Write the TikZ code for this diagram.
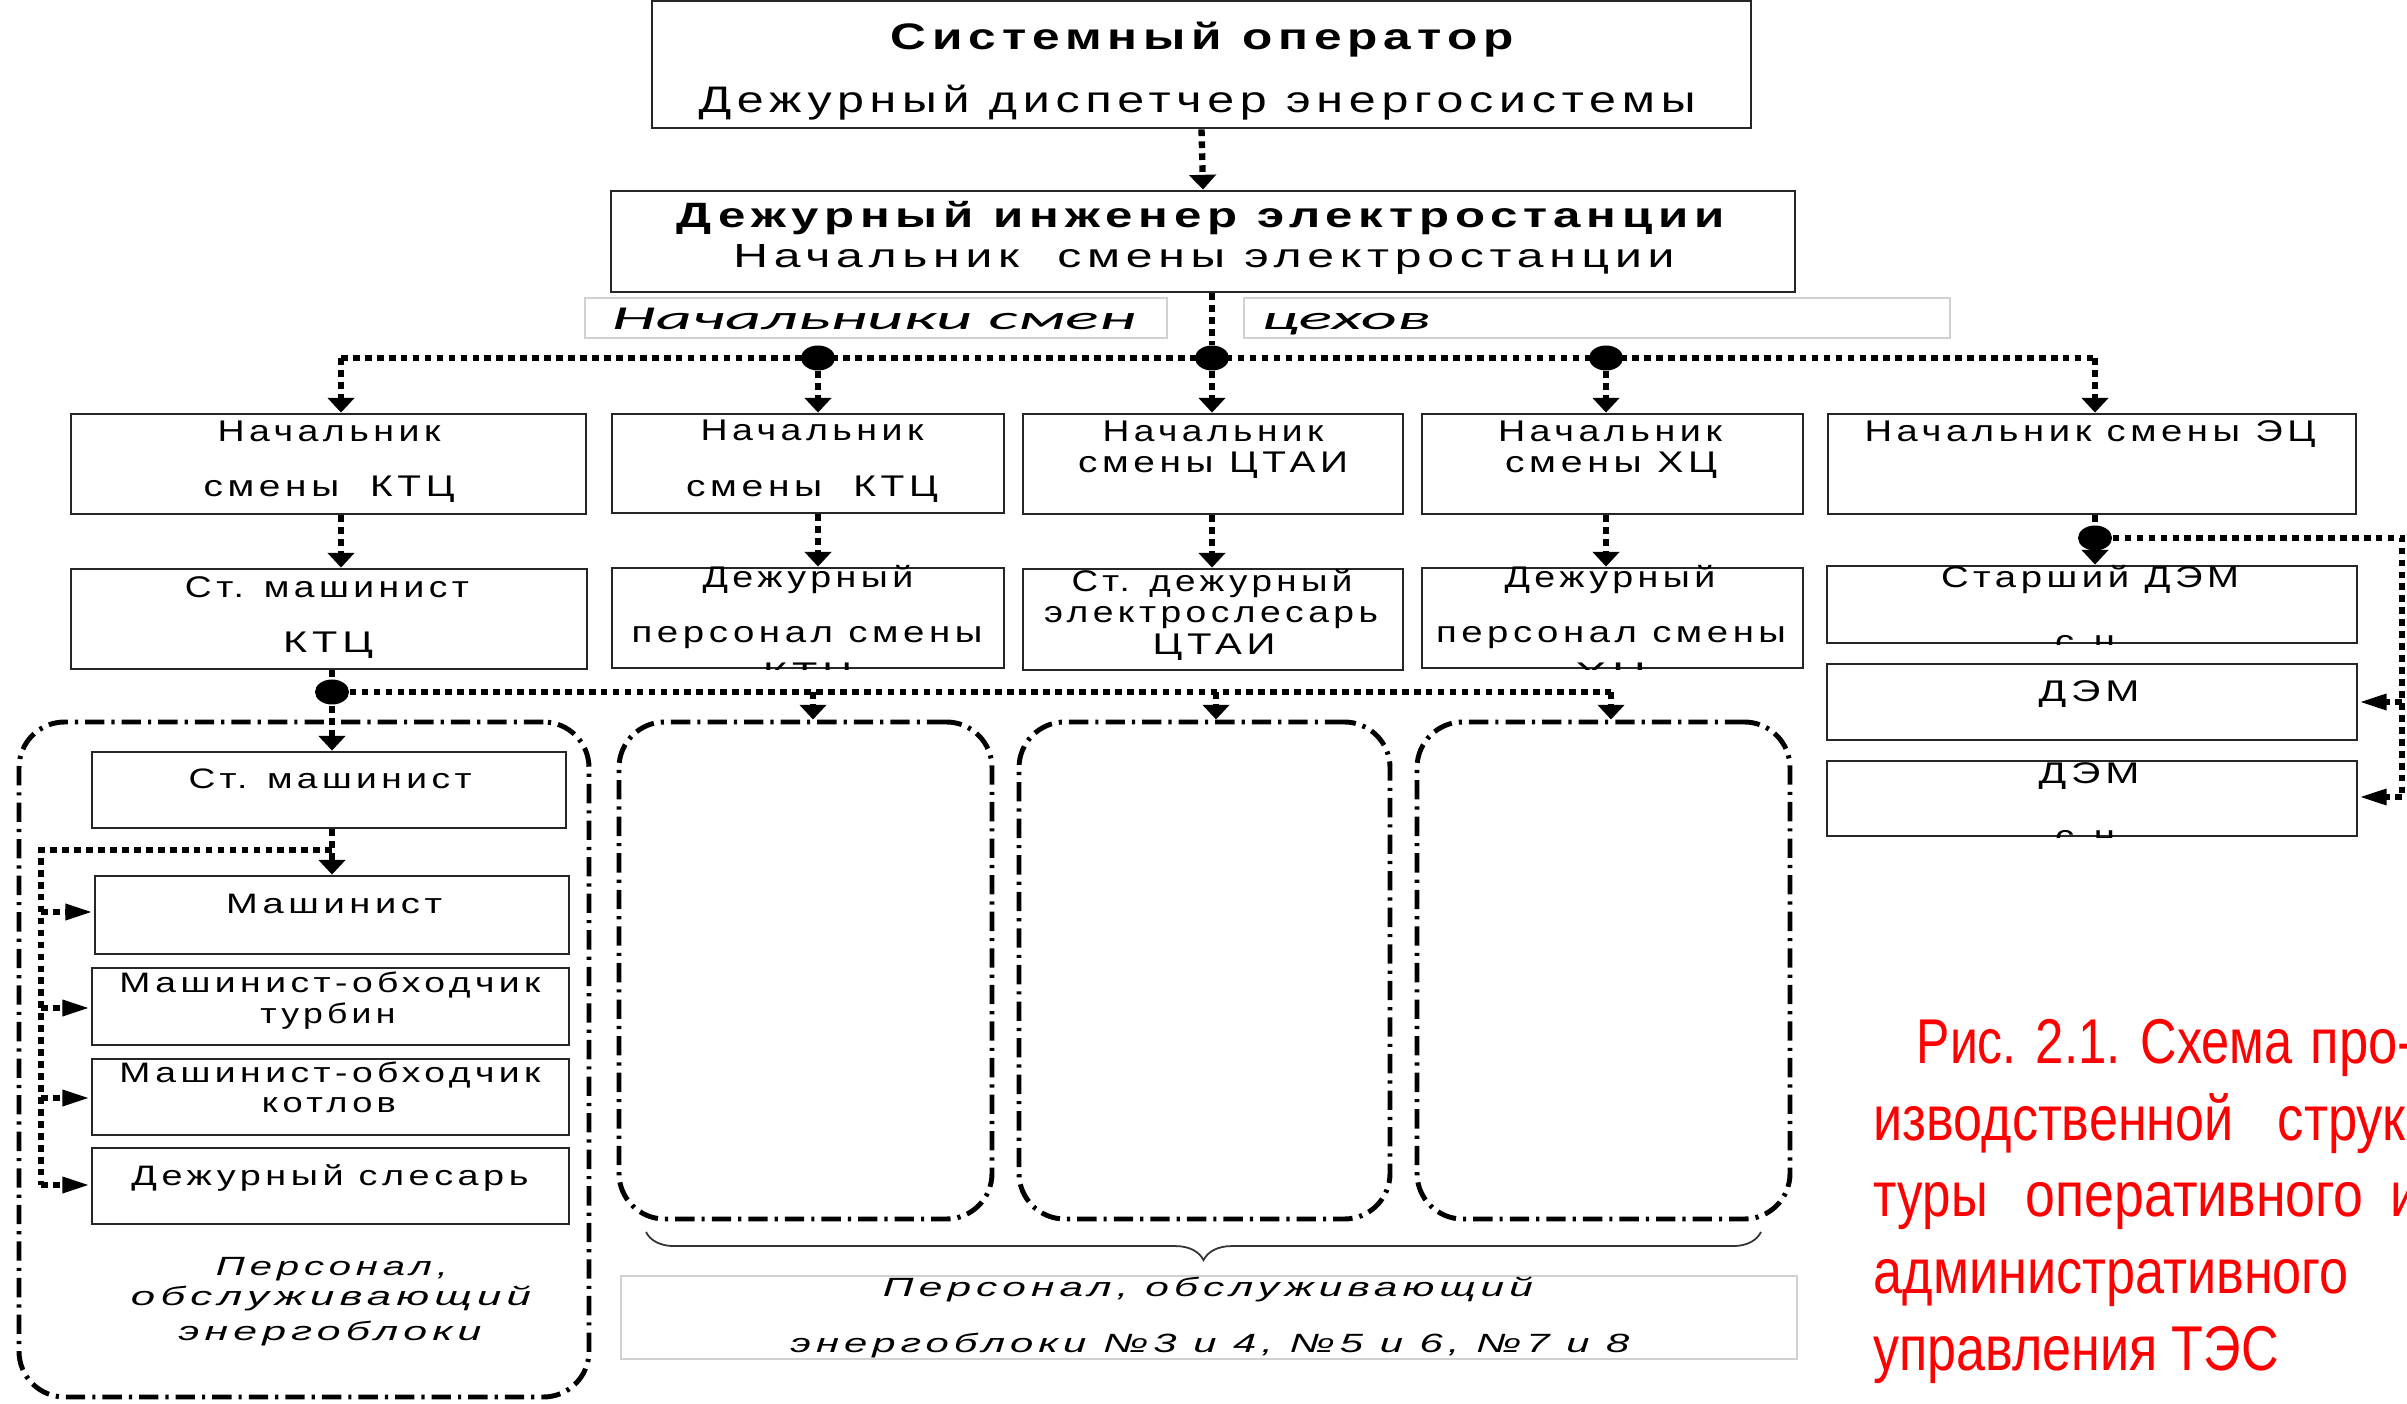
\documentclass[tikz,border=0pt]{standalone}
\usepackage{fontspec}
\usepackage{graphicx}
\setmainfont{Liberation Sans}
\newfontfamily\boxf[LetterSpace=12]{Liberation Sans}
\newfontfamily\carl{Carlito}
\newfontfamily\capf[FakeStretch=0.83]{Liberation Sans}
\usetikzlibrary{arrows.meta,shapes.geometric,fit,decorations.pathreplacing}
\newlength\pxu \setlength\pxu{0.01cm}
\newcommand\fw[2]{\resizebox{#1\pxu}{\height}{#2}}
\newcommand\fs[1]{\fontsize{#1}{#1}\selectfont}
\begin{document}
\begin{tikzpicture}[x=0.01cm,y=-0.01cm,
  box/.style={draw=black!85, line width=0.8pt, inner sep=0},
  lbox/.style={draw=black!18, line width=0.5pt, inner sep=0},
  cont/.style={draw=black, line width=1.4pt, dash pattern=on 5.5pt off 2pt on 0.9pt off 2pt, rounded corners=13pt, inner sep=0},
  conn/.style={draw=black, line width=1.8pt, dash pattern=on 1.9pt off 1.5pt},
  arr/.style={-{Triangle[length=4.2pt,width=7.5pt]}},
  harr/.style={-{Triangle[length=8pt,width=4.2pt]}},
  dotn/.style={ellipse, fill=black, inner sep=0, minimum width=34\pxu, minimum height=25\pxu},
  txt/.style={inner sep=0, anchor=base},
  captxt/.style={inner sep=0, anchor=base west, text=red, font=\capf\fs{18}},
  brc/.style={draw=black!80, line width=0.5pt, decorate, decoration={brace, mirror, amplitude=8pt}}
]
\useasboundingbox (0,0) rectangle (2407,1404);
\fill[white] (0,0) rectangle (2407,1404);
\clip (0,0) rectangle (2407,1404);

% ---------- boxes ----------
\node[box, fit={(652,1) (1751,128)}] (top) {};
\node[box, fit={(611,191) (1795,292)}] (eng) {};
\node[lbox, fit={(585,298) (1167,338)}] (lab1) {};
\node[lbox, fit={(1244,298) (1950,338)}] (lab2) {};
\node[box, fit={(71,414) (586,514)}] (b1) {};
\node[box, fit={(612,414) (1004,513)}] (b2) {};
\node[box, fit={(1023,414) (1403,514)}] (b3) {};
\node[box, fit={(1422,414) (1803,514)}] (b4) {};
\node[box, fit={(1828,414) (2356,514)}] (b5) {};
\node[box, fit={(71,569) (587,669)}] (c1) {};
\node[box, fit={(612,568) (1004,668)}] (c2) {};
\node[box, fit={(1023,569) (1403,670)}] (c3) {};
\node[box, fit={(1422,568) (1803,668)}] (c4) {};
\node[box, fit={(1827,566) (2357,643)}] (e1) {};
\node[box, fit={(1827,664) (2357,740)}] (e2) {};
\node[box, fit={(1827,761) (2357,836)}] (e3) {};
\node[box, fit={(92,752) (566,828)}] (m0) {};
\node[box, fit={(95,876) (569,954)}] (m1) {};
\node[box, fit={(92,968) (569,1045)}] (m2) {};
\node[box, fit={(92,1059) (569,1135)}] (m3) {};
\node[box, fit={(92,1148) (569,1224)}] (m4) {};
\node[cont, fit={(19,722) (589,1397)}] (k0) {};
\node[cont, fit={(619,722) (992,1219)}] (k1) {};
\node[cont, fit={(1019,722) (1390,1219)}] (k2) {};
\node[cont, fit={(1417,722) (1790,1219)}] (k3) {};
\node[lbox, fit={(621,1276) (1797,1359)}] (lab3) {};

% ---------- texts ----------
\node[txt] (t1) at (1202,50) {\boxf\bfseries\fs{10.5}\fw{623}{Системный оператор}};
\node[txt] (t2) at (1197,113) {\boxf\fs{10.5}\fw{997}{Дежурный диспетчер энергосистемы}};
\node[txt] (t3) at (1201,228) {\boxf\bfseries\fs{10}\fw{1048}{Дежурный инженер электростанции}};
\node[txt] (t4) at (1204,268) {\boxf\fs{9.5}\fw{941}{Начальник\ \ смены электростанции}};
\node[txt] (l1) at (874,330) {\carl\itshape\fs{9.5}\fw{524}{Начальники смен}};
\node[txt] (l2) at (1346,330) {\carl\itshape\fs{9.5}\fw{169}{цехов}};

\node[txt] (b1a) at (329,442) {\boxf\fs{8.5}\fw{223}{Начальник}};
\node[txt] (b1b) at (329,497) {\boxf\fs{8.5}\fw{251}{смены\ \ КТЦ}};
\node[txt] (b2a) at (812,441) {\boxf\fs{8.5}\fw{223}{Начальник}};
\node[txt] (b2b) at (812,497) {\boxf\fs{8.5}\fw{252}{смены\ \ КТЦ}};
\node[txt] (b3a) at (1213,442) {\boxf\fs{8.5}\fw{221}{Начальник}};
\node[txt] (b3b) at (1213,473) {\boxf\fs{8.5}\fw{270}{смены ЦТАИ}};
\node[txt] (b4a) at (1610,442) {\boxf\fs{8.5}\fw{224}{Начальник}};
\node[txt] (b4b) at (1611,473) {\boxf\fs{8.5}\fw{212}{смены ХЦ}};
\node[txt] (b5a) at (2090,442) {\boxf\fs{8.5}\fw{451}{Начальник смены ЭЦ}};

\node[txt] (c1a) at (327,598) {\boxf\fs{8.5}\fw{284}{Ст. машинист}};
\node[txt] (c1b) at (328,653) {\boxf\fs{8.5}\fw{90}{КТЦ}};
\node[txt] (c2a) at (808,588) {\boxf\fs{8.5}\fw{211}{Дежурный}};
\node[txt] (c2b) at (807,643) {\boxf\fs{8.5}\fw{351}{персонал смены}};
\begin{scope}
\clip (c2.south west) rectangle (c2.north east);
\node[txt] (c2c) at (808,684) {\boxf\fs{8.5}\fw{90}{КТЦ}};
\end{scope}
\node[txt] (c3a) at (1212,592) {\boxf\fs{8.5}\fw{281}{Ст. дежурный}};
\node[txt] (c3b) at (1211,623) {\boxf\fs{8.5}\fw{334}{электрослесарь}};
\node[txt] (c3c) at (1214,655) {\boxf\fs{8.5}\fw{123}{ЦТАИ}};
\node[txt] (c4a) at (1610,588) {\boxf\fs{8.5}\fw{211}{Дежурный}};
\node[txt] (c4b) at (1611,643) {\boxf\fs{8.5}\fw{350}{персонал смены}};
\begin{scope}
\clip (c4.south west) rectangle (c4.north east);
\node[txt] (c4c) at (1611,684) {\boxf\fs{8.5}\fw{72}{ХЦ}};
\end{scope}
\node[txt] (e1a) at (2090,588) {\boxf\fs{8.5}\fw{298}{Старший ДЭМ}};
\begin{scope}
\clip (e1.south west) rectangle (e1.north east);
\node[txt] (e1b) at (2085,652) {\boxf\fs{8.5}\fw{60}{с.н}};
\end{scope}
\node[txt] (e2a) at (2089,702) {\boxf\fs{8.5}\fw{101}{ДЭМ}};
\node[txt] (e3a) at (2089,783) {\boxf\fs{8.5}\fw{101}{ДЭМ}};
\begin{scope}
\clip (e3.south west) rectangle (e3.north east);
\node[txt] (e3b) at (2085,846) {\boxf\fs{8.5}\fw{60}{с.н}};
\end{scope}

\node[txt] (m0a) at (330,788) {\boxf\fs{8}\fw{283}{Ст. машинист}};
\node[txt] (m1a) at (334,913) {\boxf\fs{8}\fw{216}{Машинист}};
\node[txt] (m2a) at (330,992) {\boxf\fs{8}\fw{421}{Машинист-обходчик}};
\node[txt] (m2b) at (328,1023) {\boxf\fs{8}\fw{135}{турбин}};
\node[txt] (m3a) at (330,1082) {\boxf\fs{8}\fw{421}{Машинист-обходчик}};
\node[txt] (m3b) at (329,1112) {\boxf\fs{8}\fw{134}{котлов}};
\node[txt] (m4a) at (330,1185) {\boxf\fs{8}\fw{397}{Дежурный слесарь}};
\node[txt] (p1) at (332,1275) {\boxf\itshape\fs{7.5}\fw{232}{Персонал,}};
\node[txt] (p2) at (331,1305) {\boxf\itshape\fs{7.5}\fw{400}{обслуживающий}};
\node[txt] (p3) at (330,1340) {\boxf\itshape\fs{7.5}\fw{303}{энергоблоки}};
\node[txt] (q1t) at (1208,1296) {\boxf\itshape\fs{7.5}\fw{650}{Персонал, обслуживающий}};
\node[txt] (q2t) at (1210,1352) {\boxf\itshape\fs{7.5}\fw{839}{энергоблоки №3 и 4, №5 и 6, №7 и 8}};

% ---------- caption ----------
\node[captxt] (r1a) at (1916,1063) {\fw{100}{Рис.}};
\node[captxt] (r1b) at (2035,1063) {\fw{85}{2.1.}};
\node[captxt] (r1c) at (2140,1063) {\fw{152}{Схема}};
\node[captxt] (r1d) at (2310,1063) {про-};
\node[captxt] (r2a) at (1873,1140) {\fw{360}{изводственной}};
\node[captxt] (r2b) at (2277,1140) {струк-};
\node[captxt] (r3a) at (1873,1216) {\fw{114}{туры}};
\node[captxt] (r3b) at (2025,1216) {\fw{338}{оперативного}};
\node[captxt] (r3c) at (2390,1216) {и};
\node[captxt] (r4a) at (1873,1293) {\fw{475}{административного}};
\node[captxt] (r5a) at (1873,1370) {\fw{405}{управления ТЭС}};

% ---------- junctions ----------
\coordinate (cL1) at (341,358);
\coordinate (cR1) at (2095,358);
\node[dotn] (d2) at (818,358) {};
\node[dotn] (d3) at (1212,358) {};
\node[dotn] (d4) at (1606,358) {};
\node[dotn] (d6) at (2095,538) {};
\coordinate (cE1) at (2402,538);
\coordinate (cE2) at (2402,797);
\coordinate (cE3) at (2402,702);
\node[dotn] (d7) at (332,692) {};
\coordinate (cR2) at (1611,692);
\coordinate (q1) at (813,692);
\coordinate (q2) at (1216,692);
\coordinate (br0) at (332,850);
\coordinate (br1) at (41,850);
\coordinate (br2) at (41,1185);
\coordinate (a1) at (41,912);
\coordinate (a2) at (41,1008);
\coordinate (a3) at (41,1098);
\coordinate (a4) at (41,1185);

% ---------- connectors ----------
\draw[conn,arr] (top.south) -- (eng.north);
\draw[conn] (eng.south -| d3) -- (d3);
\draw[conn] (cL1) -- (cR1);
\draw[conn,arr] (cL1) -- (cL1 |- b1.north);
\draw[conn,arr] (d2) -- (d2 |- b2.north);
\draw[conn,arr] (d3) -- (d3 |- b3.north);
\draw[conn,arr] (d4) -- (d4 |- b4.north);
\draw[conn,arr] (cR1) -- (cR1 |- b5.north);
\draw[conn,arr] (b1.south -| cL1) -- (c1.north -| cL1);
\draw[conn,arr] (b2.south -| d2) -- (c2.north -| d2);
\draw[conn,arr] (b3.south -| d3) -- (c3.north -| d3);
\draw[conn,arr] (b4.south -| d4) -- (c4.north -| d4);
\draw[conn,arr] (b5.south -| d6) -- (e1.north -| d6);
\draw[conn] (d6) -- (cE1) -- (cE2);
\draw[conn,harr] (cE3) -- (e2.east |- cE3);
\draw[conn,harr] (cE2) -- (e3.east |- cE2);
\draw[conn,arr] (c1.south -| d7) -- (m0.north -| d7);
\draw[conn] (d7) -- (cR2);
\draw[conn,arr] (q1) -- (q1 |- k1.north);
\draw[conn,arr] (q2) -- (q2 |- k2.north);
\draw[conn,arr] (cR2) -- (cR2 |- k3.north);
\draw[conn,arr] (m0.south -| d7) -- (m1.north -| d7);
\draw[conn] (br0) -- (br1) -- (br2);
\draw[conn,harr] (a1) -- (m1.west |- a1);
\draw[conn,harr] (a2) -- (m2.west |- a2);
\draw[conn,harr] (a3) -- (m3.west |- a3);
\draw[conn,harr] (a4) -- (m4.west |- a4);

% ---------- brace ----------
\coordinate (bl) at (646,1232);
\coordinate (bra) at (1761,1232);
\draw[brc] (bl) -- (bra);
\end{tikzpicture}
\end{document}
